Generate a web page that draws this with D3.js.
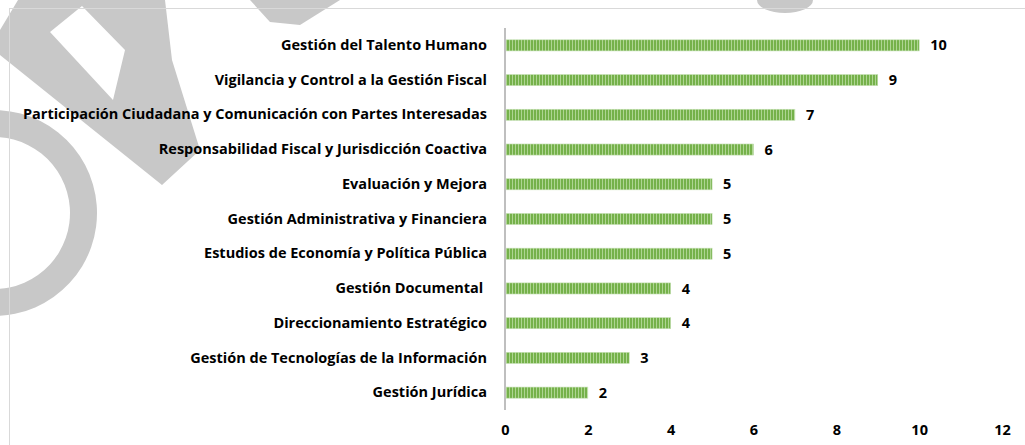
<!DOCTYPE html>
<html>
<head>
    <meta charset="UTF-8">
    <script src="https://d3js.org/d3.v7.min.js"></script>
    <style>
     body { margin: 0; background: #fff; }
     text { font-family: "Open Sans", sans-serif; font-weight: bold; }
    </style>
</head>

<body>
    <div id="chart"></div>
    <script>
     // Values
     const categories = [
         "Gestión del Talento Humano",
         "Vigilancia y Control a la Gestión Fiscal",
         "Participación Ciudadana y Comunicación con Partes Interesadas",
         "Responsabilidad Fiscal y Jurisdicción Coactiva",
         "Evaluación y Mejora",
         "Gestión Administrativa y Financiera",
         "Estudios de Economía y Política Pública",
         "Gestión Documental ",
         "Direccionamiento Estratégico",
         "Gestión de Tecnologías de la Información",
         "Gestión Jurídica"
     ];
     const values = [10, 9, 7, 6, 5, 5, 5, 4, 4, 3, 2];
     const xTicks = [0, 2, 4, 6, 8, 10, 12];

     const width = 1025;
     const height = 445;
     const plot = {left: 505, right: 1002, top: 28, bottom: 410};
     const fontSize = "14.5px";

     let svg = d3.select("#chart").append("svg")
                 .attr("width", width)
                 .attr("height", height);

     // stripes for the bars
     let pat = svg.append("defs").append("pattern")
                  .attr("id", "stripes")
                  .attr("patternUnits", "userSpaceOnUse")
                  .attr("width", 3)
                  .attr("height", 10);
     pat.append("rect").attr("width", 3).attr("height", 10).style("fill", "#aed592");
     pat.append("rect").attr("width", 2).attr("height", 10).style("fill", "#75b14a");

     // watermark in the background (rough shapes)
     let wm = svg.append("g").style("fill", "#c8c8c8");
     wm.append("path")
       .attr("fill-rule", "evenodd")
       .attr("d", "M18,0 L165,0 L172,60 L200,150 L162,185 L0,55 L0,30 Z " +
                  "M50,32 L82,6 L125,50 L113,100 Z");
     wm.append("path")
       .attr("d", "M250,0 L340,0 L300,25 L270,22 Z");
     wm.append("path")
       .attr("d", d3.arc()({innerRadius: 76, outerRadius: 103,
                            startAngle: -0.15, endAngle: Math.PI}))
       .attr("transform", "translate(-6,213)");
     wm.append("ellipse")
       .attr("cx", 785).attr("cy", 0).attr("rx", 28).attr("ry", 13);

     // chart area frame
     svg.append("rect")
        .attr("x", 9.5).attr("y", 8.5)
        .attr("width", 1040).attr("height", 460)
        .style("fill", "none")
        .style("stroke", "#d9d9d9");

     let x = d3.scaleLinear()
               .domain([0, 12])
               .range([plot.left, plot.right]);
     let y = d3.scaleBand()
               .domain(categories)
               .range([plot.top, plot.bottom])
               .paddingInner(0.68)
               .paddingOuter(0.34);

     // bars
     svg.selectAll("rect.bar")
        .data(values)
        .enter()
        .append("rect")
        .attr("class", "bar")
        .attr("x", x(0))
        .attr("y", (d, i) => y(categories[i]))
        .attr("width", d => x(d) - x(0))
        .attr("height", y.bandwidth())
        .style("fill", "url(#stripes)")
        .style("stroke", "#c5e0b4")
        .style("stroke-width", 0.6);

     // value labels
     svg.selectAll("text.val")
        .data(values)
        .enter()
        .append("text")
        .attr("class", "val")
        .attr("x", d => x(d) + 11)
        .attr("y", (d, i) => y(categories[i]) + y.bandwidth() / 2)
        .attr("dy", "0.35em")
        .style("font-size", fontSize)
        .text(d => d);

     // category axis
     let yAxis = svg.append("g")
                    .attr("transform", `translate(${plot.left},0)`)
                    .call(d3.axisLeft(y).tickSize(0).tickPadding(18));
     yAxis.select(".domain")
          .attr("d", `M0,${plot.top}V${plot.bottom}`)
          .style("stroke", "#bfbfbf")
          .style("stroke-width", 2);
     yAxis.selectAll("text")
          .style("font-size", fontSize)
          .style("fill", "#000")
          .style("white-space", "pre");

     // value axis (labels only)
     let xAxis = svg.append("g")
                    .attr("transform", `translate(0,${plot.bottom})`)
                    .call(d3.axisBottom(x).tickValues(xTicks).tickSize(0).tickPadding(15));
     xAxis.select(".domain").remove();
     xAxis.selectAll("text")
          .style("font-size", fontSize)
          .style("fill", "#000");
    </script>
</body>

</html>
